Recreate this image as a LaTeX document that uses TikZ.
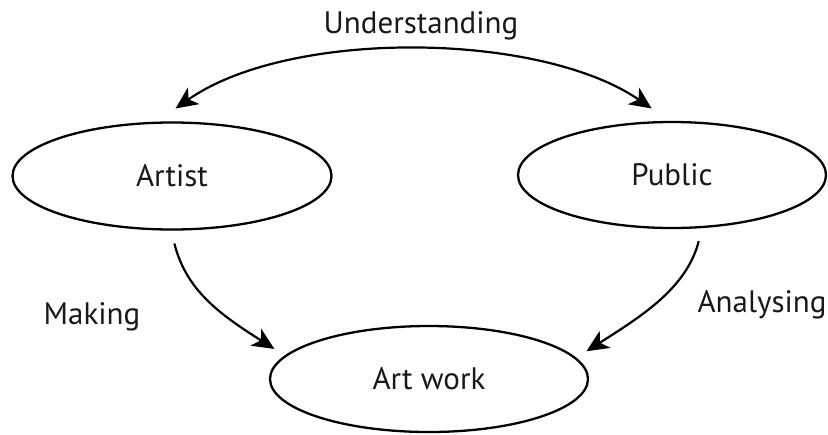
\documentclass[tikz,border=0pt]{standalone}
\usepackage{fontspec}
\setmainfont{PT Sans}
\usetikzlibrary{shapes.geometric,arrows.meta}
\begin{document}
\begin{tikzpicture}[x=0.5pt,y=-0.5pt,
  oval/.style={ellipse,draw=black,line width=1.15pt,inner sep=0pt,outer sep=7pt,
    font=\fontsize{15.5}{18}\selectfont,text=black!90},
  lbl/.style={font=\fontsize{15.5}{18}\selectfont,text=black!90,inner sep=0pt,anchor=base},
  tip/.style={Stealth[length=11pt,width=10pt,inset=3pt]},
  conn/.style={line width=1.1pt,-{Stealth[length=11pt,width=10pt,inset=3pt]}},
  conn2/.style={line width=1.1pt,{Stealth[length=11pt,width=10pt,inset=3pt]}-{Stealth[length=11pt,width=10pt,inset=3pt]}}]
\useasboundingbox (0,0) rectangle (828,434);
\node[oval,minimum width=159.5pt,minimum height=53.5pt] (artist) at (172,176) {Artist};
\node[oval,minimum width=154pt,minimum height=53pt] (public) at (672,175) {Public};
\node[oval,minimum width=159pt,minimum height=53pt] (artwork) at (429,379) {Art work};
\node[lbl] (under) at (421,33) {Understanding};
\node[lbl] (making) at (92,324) {Making};
\node[lbl] (analys) at (762,312) {Analysing};
\draw[conn2] (artist.87) .. controls +(114,-80) and +(-112,-77) .. (public.107);
\draw[conn] (artist.-88) .. controls +(12,47) and +(-55,-35) .. (artwork.169);
\draw[conn] (public.-68) .. controls +(-12,47) and +(55,-35) .. (artwork.10);
\end{tikzpicture}
\end{document}
